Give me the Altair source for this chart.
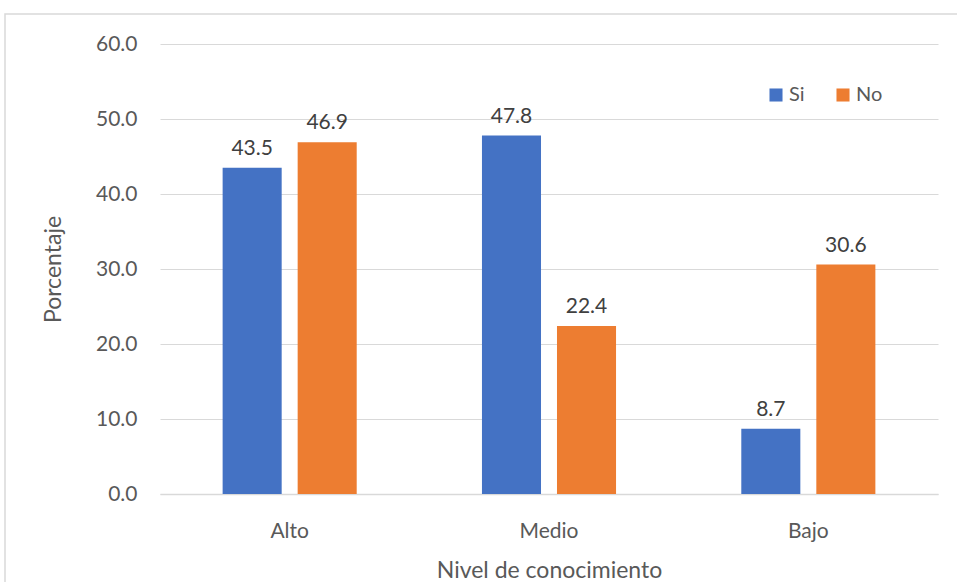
import altair as alt
import pandas as pd

categorias = ["Alto", "Medio", "Bajo"]
series = ["Si", "No"]
si_vals = [43.5, 47.8, 8.7]
no_vals = [46.9, 22.4, 30.6]
colores = ["#4472C4", "#ED7D31"]

rows = []
for c, s, n in zip(categorias, si_vals, no_vals):
    rows.append({"nivel": c, "serie": "Si", "valor": s})
    rows.append({"nivel": c, "serie": "No", "valor": n})
df = pd.DataFrame(rows)

FONT = "Lato"
GRAY = "#595959"

x = alt.X("nivel:N", sort=categorias,
          scale=alt.Scale(paddingInner=0.483, paddingOuter=0.2415),
          axis=alt.Axis(title="Nivel de conocimiento", labelAngle=0, ticks=False, grid=False,
                        domain=True, domainColor="#d9d9d9", domainWidth=1.5,
                        labelFont=FONT, labelFontSize=21, labelColor=GRAY, labelPadding=26,
                        titleFont=FONT, titleFontSize=23, titleFontWeight="normal",
                        titleColor=GRAY, titlePadding=18))
xo = alt.XOffset("serie:N", sort=series,
                 scale=alt.Scale(paddingInner=0.213, paddingOuter=0))
y = alt.Y("valor:Q",
          scale=alt.Scale(domain=[0, 60], nice=False),
          axis=alt.Axis(title="Porcentaje", values=[0, 10, 20, 30, 40, 50, 60], format=".1f",
                        ticks=False, domain=False, gridColor="#d9d9d9", gridWidth=1.2,
                        labelFont=FONT, labelFontSize=21, labelColor=GRAY, labelPadding=23,
                        titleFont=FONT, titleFontSize=23, titleFontWeight="normal",
                        titleColor=GRAY, titlePadding=30))
color = alt.Color("serie:N", sort=series,
                  scale=alt.Scale(domain=series, range=colores),
                  legend=alt.Legend(title=None, orient="none", legendX=606, legendY=41,
                                    direction="horizontal", symbolType="square",
                                    symbolSize=170, symbolStrokeWidth=0, columnPadding=28,
                                    labelOffset=3,
                                    labelFont=FONT, labelFontSize=20, labelColor=GRAY))

base = alt.Chart(df)
bars = base.mark_bar().encode(x=x, xOffset=xo, y=y, color=color)
labels = base.mark_text(baseline="alphabetic", dy=-13, font=FONT, fontSize=21, color="#404040").encode(
    x=x, xOffset=xo, y=y, text=alt.Text("valor:Q", format=".1f"))

frame = alt.Chart(pd.DataFrame({"a": [0]})).mark_rect(
    fill=None, stroke="#d9d9d9", strokeWidth=1.5).encode(
    x=alt.value(-155), x2=alt.value(800), y=alt.value(-30), y2=alt.value(546))

chart = alt.layer(frame, bars, labels).properties(
    width=778, height=450,
    background="white",
    autosize=alt.AutoSizeParams(type="none"),
    padding={"left": 160, "top": 44, "right": 19, "bottom": 88},
).configure_view(strokeWidth=0, stroke="transparent")

chart.save("out.html", embed_options={"renderer": "svg", "actions": False})
